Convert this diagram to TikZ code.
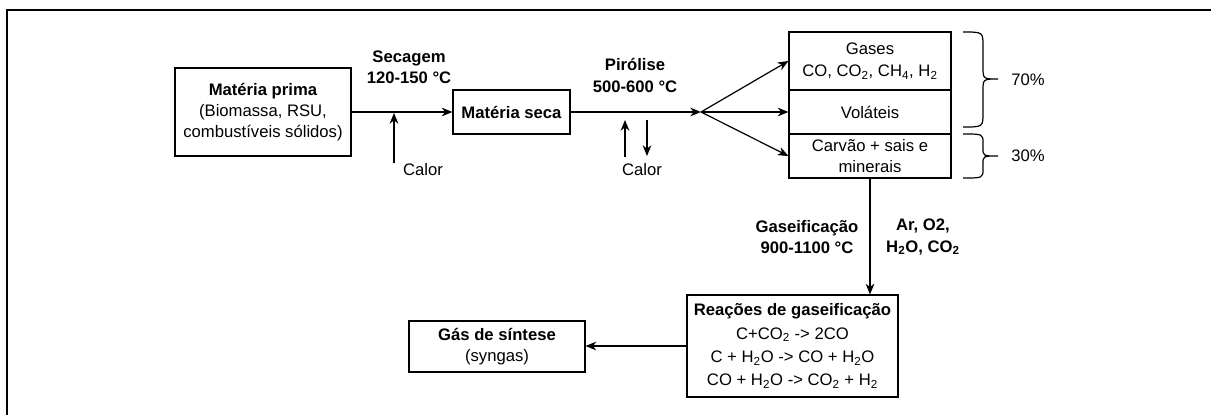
\documentclass[tikz,border=0pt]{standalone}
\usepackage{fontspec}
\setmainfont{Liberation Sans}
\usetikzlibrary{shapes,arrows.meta}

\begin{document}
\begin{tikzpicture}[x=0.75pt,y=-0.75pt,
  box/.style={draw, line width=0.9pt, align=center, inner sep=0pt, font=\fontsize{12.5}{16}\selectfont},
  lbl/.style={align=center, inner sep=0pt, font=\fontsize{12.5}{16}\selectfont},
  flow/.style={-{Stealth[length=8pt,width=6.5pt,inset=2.5pt]}, line width=0.9pt}]
	\useasboundingbox (0,0) rectangle (1211,415);
	\draw[line width=1.6pt] (1211,10) -- (7,10) -- (7,415);

	% boxes
	\node[box, minimum width=132pt, minimum height=66pt] (prima) at (263,112)
		{\textbf{Matéria prima}\\(Biomassa, RSU,\\combustíveis sólidos)};
	\node[box, minimum width=87.75pt, minimum height=33pt] (seca) at (511.5,112) {\textbf{Matéria seca}};
	\node[box, minimum width=121.5pt, minimum height=43.5pt] (gases) at (870,61)
		{Gases\\[1pt]CO, CO\textsubscript{2}, CH\textsubscript{4}, H\textsubscript{2}};
	\node[box, minimum width=121.5pt, minimum height=33pt] (volateis) at (870,112) {Voláteis};
	\node[box, minimum width=121.5pt, minimum height=33pt] (carvao) at (870,156) {Carvão + sais e\\minerais};
	\node[box, minimum width=158.25pt, minimum height=76.5pt, font=\fontsize{12.5}{17.5}\selectfont] (reac) at (792.5,346)
		{\textbf{Reações de gaseificação}\\C+CO\textsubscript{2} -> 2CO\\C + H\textsubscript{2}O -> CO + H\textsubscript{2}O\\CO + H\textsubscript{2}O -> CO\textsubscript{2} + H\textsubscript{2}};
	\node[box, minimum width=132pt, minimum height=38.25pt] (syn) at (497,346.5) {\textbf{Gás de síntese}\\(syngas)};

	% labels
	\node[lbl] (secagem) at (409,67.5) {\textbf{Secagem}\\\textbf{120-150 °C}};
	\node[lbl] (pirolise) at (635,75.5) {\textbf{Pirólise}\\\textbf{500-600 °C}};
	\node[lbl] (calorA) at (423,170) {Calor};
	\node[lbl] (calorB) at (642,170) {Calor};
	\node[lbl] (gaseif) at (807,237) {\textbf{Gaseificação}\\\textbf{900-1100 °C}};
	\node[lbl] (agentes) at (923,237) {\textbf{Ar, O2,}\\\textbf{H\textsubscript{2}O, CO\textsubscript{2}}};
	\node[lbl] (setenta) at (1028,80) {70\%};
	\node[lbl] (trinta) at (1028,156) {30\%};

	% connectors
	\coordinate (split) at (701,112);
	\coordinate (heatA) at (394,163);
	\coordinate (heatAend) at (394,113);
	\coordinate (pinA) at (625,157);
	\coordinate (pinB) at (625,120);
	\coordinate (poutA) at (647,120);
	\coordinate (poutB) at (647,156);
	\draw[flow] (prima) -- (seca);
	\draw[flow] (heatA) -- (heatAend);
	\draw[flow] (seca) -- (split);
	\draw[flow] (pinA) -- (pinB);
	\draw[flow] (poutA) -- (poutB);
	\draw[flow] (split) -- (gases.west);
	\draw[flow] (split) -- (volateis.west);
	\draw[flow] (split) -- (carvao.west);
	\draw[flow] (carvao.south) -- (carvao.south |- reac.north);
	\draw[flow] (reac.west) -- (reac.west -| syn.east);

	% braces
	\draw[line width=0.9pt] (963,32) .. controls (983,32) .. (983,46) -- (983,67) .. controls (983,79) .. (998,79)
		.. controls (983,79) .. (983,91) -- (983,113) .. controls (983,127) .. (963,127);
	\draw[line width=0.9pt] (963,134) .. controls (983,134) .. (983,143) -- (983,148) .. controls (983,156) .. (998,156)
		.. controls (983,156) .. (983,164) -- (983,169) .. controls (983,178) .. (963,178);
\end{tikzpicture}
\end{document}
